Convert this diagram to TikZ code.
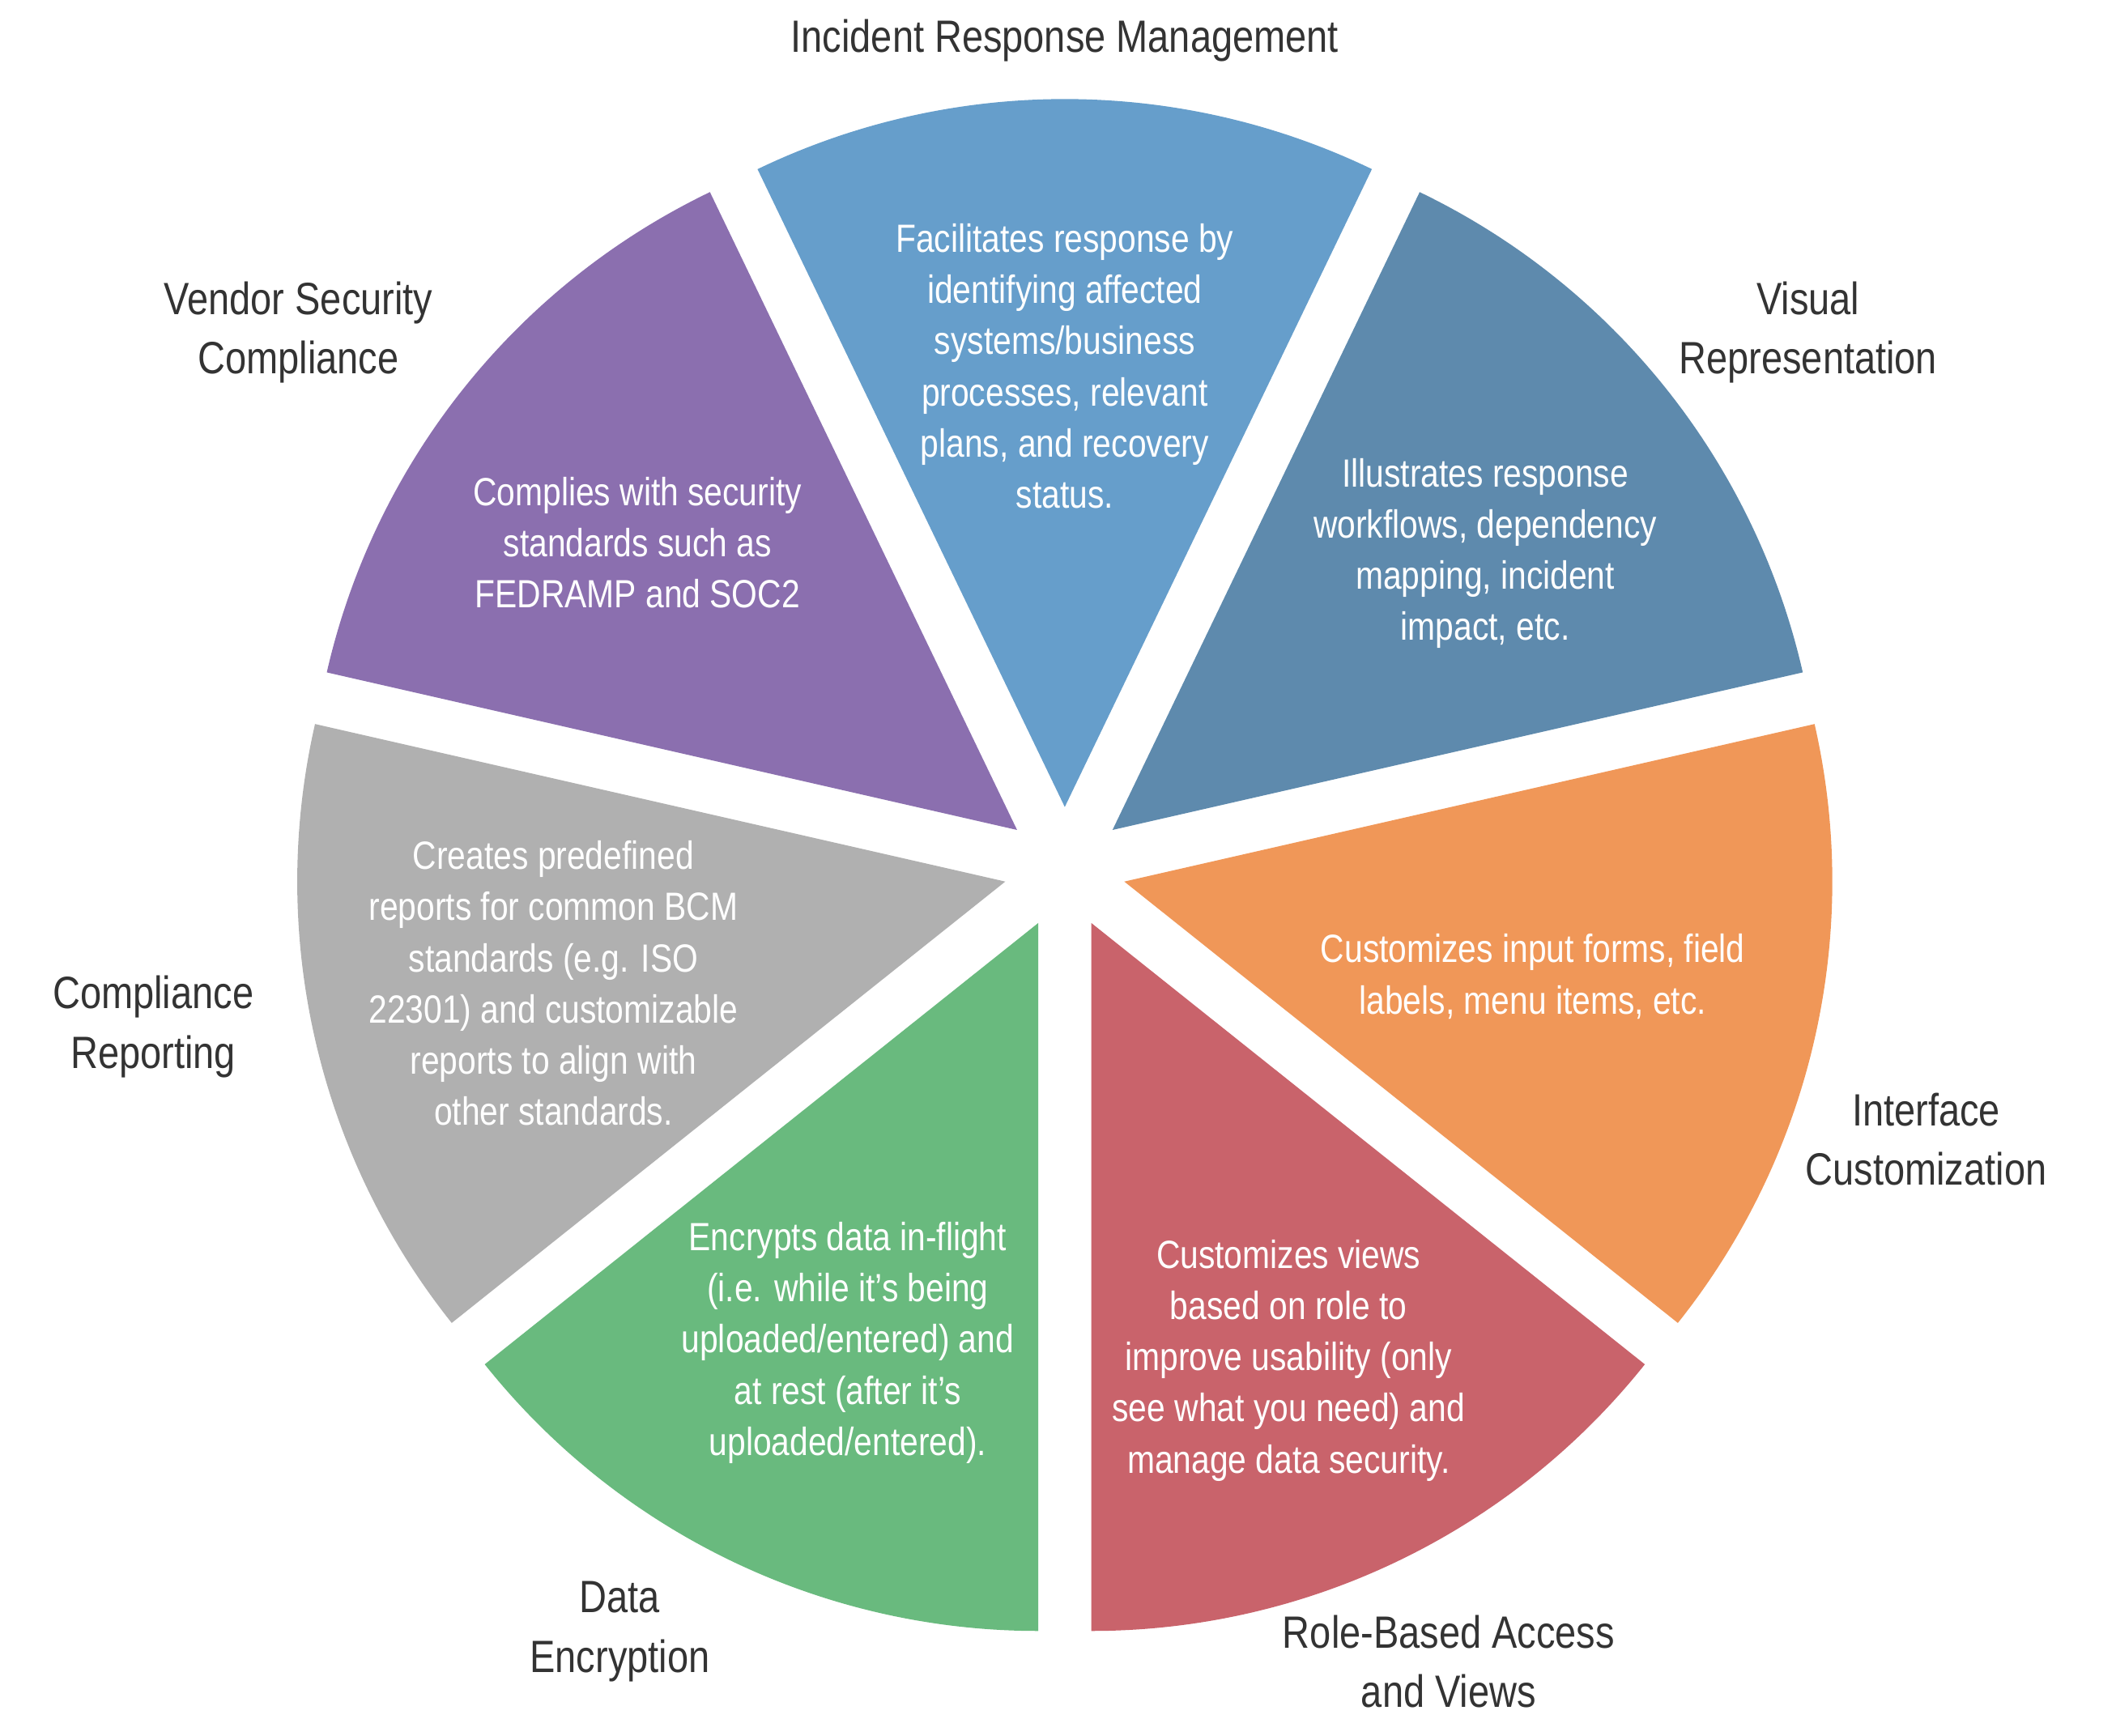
\documentclass[tikz,border=0pt]{standalone}
\usepackage{fontspec}
\setmainfont{Liberation Sans}[FakeStretch=0.84]
\definecolor{cblue}{HTML}{669ECB}
\definecolor{csteel}{HTML}{5E8AAD}
\definecolor{corange}{HTML}{F09758}
\definecolor{cred}{HTML}{C9636B}
\definecolor{cgreen}{HTML}{69BA7E}
\definecolor{cgrey}{HTML}{B0B0B0}
\definecolor{cpurple}{HTML}{8B6FAF}
\definecolor{ctext}{HTML}{333333}
\begin{document}
\begin{tikzpicture}[x=0.02cm,y=0.02cm,
  desc/.style={align=center,text=white,font=\fontsize{16.5}{21.5}\selectfont},
  lab/.style={align=center,text=ctext,font=\fontsize{19}{25}\selectfont}]
\useasboundingbox (0,0) rectangle (1560,-1280);
\coordinate (C) at (785,-640);
\foreach \a/\col in {64.29/cblue,115.71/cpurple,167.14/cgrey,218.57/cgreen,270/cred,321.43/corange,12.86/csteel}{
  \pgfmathsetmacro{\m}{\a+25.714}
  \begin{scope}[shift={(C)},shift={(\m:45)}]
    \fill[\col] (0,0) -- (\a:522) arc[start angle=\a,delta angle=51.43,radius=522] -- cycle;
  \end{scope}
}
\node[desc] (d1) at (785,-270) {Facilitates response by\\identifying affected\\systems/business\\processes, relevant\\plans, and recovery\\status.};
\node[desc] (d2) at (1095,-408) {Illustrates response\\workflows, dependency\\mapping, incident\\impact, etc.};
\node[desc] (d3) at (1130,-720) {Customizes input forms, field\\labels, menu items, etc.};
\node[desc] (d4) at (950,-1003) {Customizes views\\based on role to\\improve usability (only\\see what you need) and\\manage data security.};
\node[desc] (d5) at (625,-990) {Encrypts data in-flight\\(i.e. while it's being\\uploaded/entered) and\\at rest (after it's\\uploaded/entered).};
\node[desc] (d6) at (408,-725) {Creates predefined\\reports for common BCM\\standards (e.g. ISO\\22301) and customizable\\reports to align with\\other standards.};
\node[desc] (d7) at (470,-400) {Complies with security\\standards such as\\FEDRAMP and SOC2};
\node[lab] (l1) at (785,-30) {Incident Response Management};
\node[lab] (l2) at (1333,-245) {Visual\\Representation};
\node[lab] (l3) at (1420,-840) {Interface\\Customization};
\node[lab] (l4) at (1068,-1225) {Role-Based Access\\and Views};
\node[lab] (l5) at (457,-1203) {Data\\Encryption};
\node[lab] (l6) at (113,-757) {Compliance\\Reporting};
\node[lab] (l7) at (220,-245) {Vendor Security\\Compliance};
\end{tikzpicture}
\end{document}
